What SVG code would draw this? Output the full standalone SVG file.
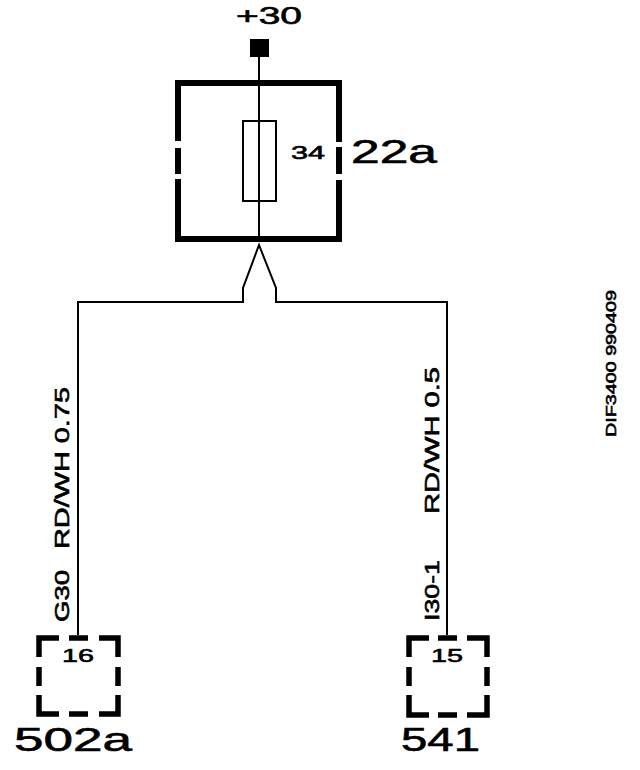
<svg xmlns="http://www.w3.org/2000/svg" width="640" height="770" viewBox="0 0 640 770">
<style>
text{font-family:"Liberation Sans",Arial,sans-serif;fill:#000;stroke:#000;stroke-width:.6}
.w{fill:none;stroke:#000;stroke-width:2}
.f{fill:none;stroke:#000;stroke-width:6}
.c{fill:none;stroke:#000;stroke-width:5.5}
</style>
<rect width="640" height="770" fill="#fff"/>
<g id="connectors">
<path class="w" d="M259 57V242"/>
<path class="w" d="M78 635V302H243V288L259 245L276 288V302H447V635"/>
</g>
<g id="terminal-30">
<rect x="250" y="39" width="19" height="18" fill="#000"/>
<text x="236" y="24" font-size="23" textLength="66" lengthAdjust="spacingAndGlyphs">+30</text>
</g>
<g id="fuse-22a">
<path class="f" d="M178 141V83H339V142M339 147V174M339 180V239H178V179M178 148V174"/>
<rect x="243" y="121" width="33" height="80" fill="none" stroke="#000" stroke-width="2"/>
<text x="291" y="159" font-size="18" textLength="34" lengthAdjust="spacingAndGlyphs">34</text>
<text x="351" y="163" font-size="34" textLength="86" lengthAdjust="spacingAndGlyphs">22a</text>
</g>
<g id="connector-502a">
<path class="c" d="M39 657V638H59M69 638H88M99 638H118V657M118 667V686M118 695V714H99M88 714H69M59 714H39V695M39 686V667"/>
<text x="62" y="662" font-size="19" textLength="32" lengthAdjust="spacingAndGlyphs">16</text>
<text x="14" y="751" font-size="33" textLength="118" lengthAdjust="spacingAndGlyphs">502a</text>
</g>
<g id="connector-541">
<path class="c" d="M409 657V638H429M438 638H457M467 638H487V657M487 667V686M487 695V715H467M457 715H438M429 715H409V695M409 686V667"/>
<text x="431" y="662" font-size="19" textLength="32" lengthAdjust="spacingAndGlyphs">15</text>
<text x="401" y="751" font-size="33" textLength="79" lengthAdjust="spacingAndGlyphs">541</text>
</g>
<g id="wire-labels">
<text transform="translate(69 622) rotate(-90)" font-size="20" textLength="52" lengthAdjust="spacingAndGlyphs">G30</text>
<text transform="translate(69 549) rotate(-90)" font-size="20" textLength="162" lengthAdjust="spacingAndGlyphs">RD/WH 0.75</text>
<text transform="translate(439 621) rotate(-90)" font-size="20" textLength="61" lengthAdjust="spacingAndGlyphs">I30-1</text>
<text transform="translate(439 514) rotate(-90)" font-size="20" textLength="147" lengthAdjust="spacingAndGlyphs">RD/WH 0.5</text>
<text transform="translate(616 437) rotate(-90)" font-size="14" textLength="147" lengthAdjust="spacingAndGlyphs">DIF3400 990409</text>
</g>
</svg>
